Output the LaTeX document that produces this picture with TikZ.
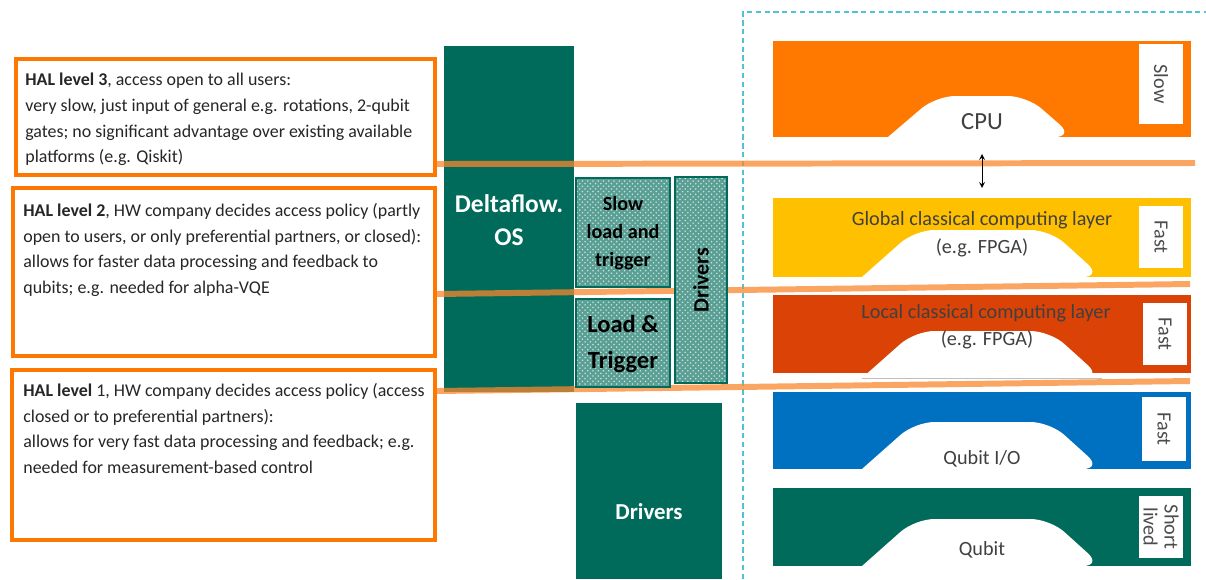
\documentclass[tikz,border=0pt]{standalone}
\usepackage{fontspec}
\setmainfont{Carlito}
\usetikzlibrary{patterns}
\definecolor{halorange}{RGB}{252,120,0}
\definecolor{lineorange}{RGB}{250,135,45}
\definecolor{dfgreen}{RGB}{0,107,90}
\definecolor{cpuorange}{RGB}{255,120,0}
\definecolor{globalgold}{RGB}{255,192,0}
\definecolor{localred}{RGB}{218,66,6}
\definecolor{qioblue}{RGB}{0,112,192}
\definecolor{dashcyan}{RGB}{80,195,210}
\tikzset{
	halbox/.style={draw=halorange, line width=2.3pt, fill=white},
	haltext/.style={anchor=north west, inner sep=0pt, align=left, text=black!85, font=\fontsize{10.2}{14.6}\selectfont},
	levelline/.style={draw=lineorange, line width=3.4pt, opacity=0.75},
	dotbox/.style={draw=dfgreen, line width=0.6pt, preaction={fill=dfgreen!65}, pattern=crosshatch dots, pattern color=white!80!dfgreen},
	bump/.style={fill=white},
	layertext/.style={text=black!75, inner sep=0pt, font=\fontsize{11.5}{14}\selectfont},
	speedtext/.style={text=black!70, inner sep=0pt, align=center, font=\fontsize{11.5}{12}\selectfont}
}
\newcommand\drawbump[3]{\fill[bump] (#1,#3) [rounded corners=11pt]-- ({#1+53},{#3-47}) -- ({#2-52},{#3-47}) -- (#2,#3)[sharp corners] -- cycle;}

\begin{document}
\begin{tikzpicture}[x=0.02cm, y=-0.02cm]
			%%%%% START %%%%%
			\useasboundingbox (0,0) rectangle (1206,579);
			
			\draw[dashed, dash pattern=on 3pt off 2pt, dashcyan, line width=0.7pt] (743,579) -- (743,12) -- (1206,12);
			
			% HAL levels
			\draw[halbox] (16,59) rectangle (435,175);
			\node[haltext] (hal3) at (25,73) {\textbf{HAL level 3}, access open to all users:\\very slow, just input of general e.g. rotations, 2-qubit\\gates; no significant advantage over existing available\\platforms (e.g. Qiskit)};
			
			\draw[halbox] (13,188) rectangle (435,356);
			\node[haltext] (hal2) at (23,203) {\textbf{HAL level 2}, HW company decides access policy (partly\\open to users, or only preferential partners, or closed):\\allows for faster data processing and feedback to\\qubits; e.g. needed for alpha-VQE};
			
			\draw[halbox] (12,370) rectangle (435,540);
			\node[haltext] (hal1) at (23,383) {\textbf{HAL level} 1, HW company decides access policy (access\\closed or to preferential partners):\\allows for very fast data processing and feedback; e.g.\\needed for measurement-based control};
			
			% Deltaflow.OS
			\fill[dfgreen] (444,46) rectangle (574,392);
			\node[text=white, align=center, font=\bfseries\fontsize{14.5}{19}\selectfont] (os) at (509,220) {Deltaflow.\\OS};
			
			\draw[levelline] (437,164) -- (1195,163);
			\draw[levelline] (437,294) -- (1190,284);
			\draw[levelline] (437,391) -- (1190,381);
			
			\draw[dotbox] (576,178) rectangle (670,287);
			\node[align=center, font=\bfseries\fontsize{11.5}{16}\selectfont] (slowlt) at (623,233) {Slow\\load and\\trigger};
			\draw[dotbox] (576,299) rectangle (670,387);
			\node[align=center, font=\bfseries\fontsize{14}{20}\selectfont] (loadlt) at (623,344) {Load \&\\Trigger};
			\draw[dotbox] (675,177) rectangle (727,383);
			\node[rotate=90, font=\bfseries\fontsize{12.5}{14}\selectfont] (drvup) at (701,280) {Drivers};
			
			\fill[dfgreen] (576,403) rectangle (722,579);
			\node[text=white, font=\bfseries\fontsize{13}{15}\selectfont] (drvlow) at (649,512) {Drivers};
			
			% hardware layers
			\fill[cpuorange] (773,41) rectangle (1191,137);
			\fill[bump] (888,137) [rounded corners=11pt]-- (936,96) -- (1027,96) -- (1074,137)[sharp corners] -- cycle;
			\node[layertext, font=\fontsize{14}{16}\selectfont] (cpu) at (982,122) {CPU};
			
			\fill[globalgold] (773,198) rectangle (1191,277);
			\drawbump{862}{1102}{277}
			\node[layertext] (global) at (982,220) {Global classical computing layer};
			\node[layertext] (globalfpga) at (982,248) {(e.g. FPGA)};
			
			\fill[localred] (773,295) rectangle (1191,373);
			\drawbump{862}{1102}{378}
			\draw[black!25, line width=0.3pt] (862,378) -- (1102,378);
			\node[layertext] (local) at (986,313) {Local classical computing layer};
			\node[layertext] (localfpga) at (987,340) {(e.g. FPGA)};
			
			\fill[qioblue] (773,392) rectangle (1191,469);
			\drawbump{862}{1102}{469}
			\node[layertext] (qio) at (982,459) {Qubit I/O};
			
			\fill[dfgreen] (773,488) rectangle (1191,566);
			\drawbump{862}{1102}{566}
			\node[layertext] (qubit) at (982,550) {Qubit};
			
			\coordinate (arrtop) at (982,154);
			\coordinate (arrbot) at (982,188);
			\draw[<->, >=stealth, line width=0.5pt] (arrtop) -- (arrbot);
			
			% speed labels
			\fill[white] (1139,44) rectangle (1183,124);
			\node[speedtext, rotate=-90] (slow) at (1161,84) {Slow};
			\fill[white] (1139,206) rectangle (1183,268);
			\node[speedtext, rotate=-90] (fastg) at (1161,237) {Fast};
			\fill[white] (1143,303) rectangle (1187,365);
			\node[speedtext, rotate=-90] (fastl) at (1165,334) {Fast};
			\fill[white] (1142,397) rectangle (1186,461);
			\node[speedtext, rotate=-90] (fastq) at (1164,429) {Fast};
			\fill[white] (1139,496) rectangle (1183,558);
			\node[speedtext, rotate=-90] (short) at (1161,527) {Short\\lived};
			
			%%%%% END %%%%%
\end{tikzpicture}
\end{document}
